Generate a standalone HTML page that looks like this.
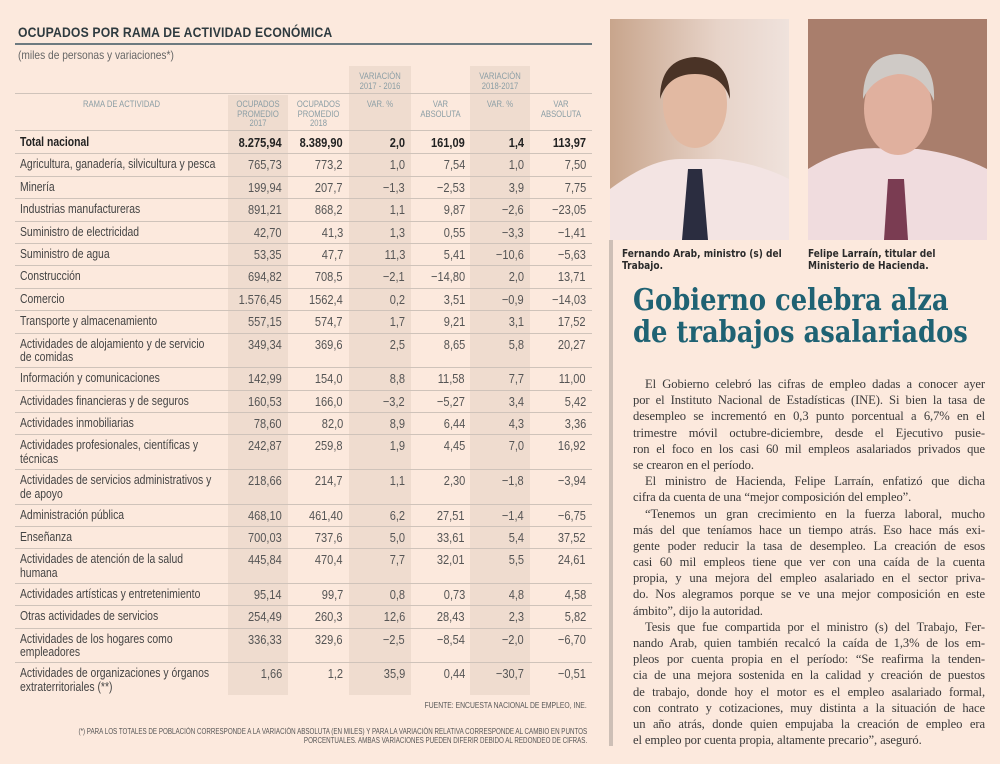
<!DOCTYPE html>
<html><head><meta charset="utf-8">
<style>
*{margin:0;padding:0;box-sizing:border-box}
body{width:1000px;height:764px;background:#fce9dd;position:relative;overflow:hidden;font-family:"Liberation Sans",sans-serif;color:#3b3b3b}
.abs{position:absolute}
.shade{position:absolute;background:#efdccf}
.hline{position:absolute;left:15px;width:577px;height:1px;background:#cfc3ba}
.cell{position:absolute;white-space:nowrap;font-size:13px}
.name{left:20px;transform:scaleX(0.8);transform-origin:left top;line-height:13.5px}
.num{transform:scaleX(0.85);transform-origin:right top;text-align:right}
.hdr{position:absolute;font-size:9px;color:#8b9ea5;text-align:center;line-height:9.5px;transform:scaleX(0.85)}
.body{position:absolute;left:633px;width:352px;font-family:"Liberation Serif",serif;font-size:12.6px;color:#3a3a3a}
.ln{height:16.2px;line-height:16.2px;white-space:nowrap;text-align:justify;text-align-last:justify;letter-spacing:-0.1px}
.ln.l{text-align-last:left}
.ln.i{padding-left:12px}
</style></head><body>
<div class="abs" style="left:18px;top:24px;font-size:14px;font-weight:bold;color:#2e3a3f;letter-spacing:0.2px;white-space:nowrap;transform:scaleX(0.87);transform-origin:left">OCUPADOS POR RAMA DE ACTIVIDAD ECONÓMICA</div>
<div class="abs" style="left:15px;top:43px;width:577px;height:2px;background:#6d7a80"></div>
<div class="abs" style="left:18px;top:48px;font-size:12px;color:#666;transform:scaleX(0.85);transform-origin:left">(miles de personas y variaciones*)</div>

<div class="shade" style="left:228px;top:95px;width:60px;height:600px"></div>
<div class="shade" style="left:349px;top:66px;width:62px;height:629px"></div>
<div class="shade" style="left:470px;top:66px;width:60px;height:629px"></div>

<div class="hdr" style="left:349px;top:72px;width:62px">VARIACIÓN<br>2017 - 2016</div>
<div class="hdr" style="left:470px;top:72px;width:60px">VARIACIÓN<br>2018-2017</div>
<div class="hline" style="top:93px"></div>
<div class="hdr" style="left:15px;top:100px;width:213px">RAMA DE ACTIVIDAD</div>
<div class="hdr" style="left:228px;top:100px;width:60px">OCUPADOS<br>PROMEDIO<br>2017</div>
<div class="hdr" style="left:288px;top:100px;width:61px">OCUPADOS<br>PROMEDIO<br>2018</div>
<div class="hdr" style="left:349px;top:100px;width:62px">VAR. %</div>
<div class="hdr" style="left:411px;top:100px;width:59px">VAR<br>ABSOLUTA</div>
<div class="hdr" style="left:470px;top:100px;width:60px">VAR. %</div>
<div class="hdr" style="left:530px;top:100px;width:62px">VAR<br>ABSOLUTA</div>
<div class="hline" style="top:130px"></div>

<div id="rows"></div>

<div class="abs" style="right:413px;top:701px;white-space:nowrap;text-align:right;font-size:8px;color:#555;transform:scaleX(0.85);transform-origin:right">FUENTE: ENCUESTA NACIONAL DE EMPLEO, INE.</div>
<div class="abs" style="right:413px;top:727px;white-space:nowrap;text-align:right;font-size:8px;line-height:9px;color:#555;transform:scaleX(0.78);transform-origin:right">(*) PARA LOS TOTALES DE POBLACIÓN CORRESPONDE A LA VARIACIÓN ABSOLUTA (EN MILES) Y PARA LA VARIACIÓN RELATIVA CORRESPONDE AL CAMBIO EN PUNTOS<br>PORCENTUALES. AMBAS VARIACIONES PUEDEN DIFERIR DEBIDO AL REDONDEO DE CIFRAS.</div>

<div class="abs" style="left:609px;top:240px;width:4px;height:506px;background:#cdbfb6"></div>

<svg class="abs" style="left:610px;top:19px" width="179" height="221">
<defs><linearGradient id="bg1" x1="0" x2="1"><stop offset="0" stop-color="#c8a58c"/><stop offset="0.6" stop-color="#e7d3c8"/><stop offset="1" stop-color="#efe2dc"/></linearGradient></defs>
<rect width="179" height="221" fill="url(#bg1)"/>
<path d="M0 170 Q40 140 70 140 L110 140 Q150 145 179 160 L179 221 L0 221Z" fill="#f3e4e3"/>
<ellipse cx="85" cy="85" rx="32" ry="44" fill="#e2b9a2"/>
<path d="M50 80 Q50 40 85 38 Q120 40 120 80 Q112 55 85 55 Q58 55 50 80Z" fill="#4a3326"/>
<path d="M78 150 L92 150 L98 221 L72 221Z" fill="#2b2d40"/>
</svg>
<svg class="abs" style="left:808px;top:19px" width="179" height="221">
<rect width="179" height="221" fill="#a07462"/>
<rect y="0" width="179" height="221" fill="#b28876" opacity="0.5"/>
<path d="M0 150 Q40 125 80 130 L110 130 Q150 135 179 150 L179 221 L0 221Z" fill="#f0dcde"/>
<ellipse cx="90" cy="90" rx="34" ry="46" fill="#e0b09e"/>
<path d="M55 80 Q55 35 92 35 Q128 38 126 82 Q115 55 90 55 Q65 58 55 80Z" fill="#cfcac6"/>
<path d="M80 160 L96 160 L100 221 L76 221Z" fill="#7a3c52"/>
</svg>
<div class="abs" style="left:622px;top:249px;white-space:nowrap;font-size:10.5px;font-weight:bold;line-height:11.5px;color:#2b2b2b;font-family:'DejaVu Sans',sans-serif;transform:scaleX(0.86);transform-origin:left">Fernando Arab, ministro (s) del<br>Trabajo.</div>
<div class="abs" style="left:808px;top:249px;white-space:nowrap;font-size:10.5px;font-weight:bold;line-height:11.5px;color:#2b2b2b;font-family:'DejaVu Sans',sans-serif;transform:scaleX(0.86);transform-origin:left">Felipe Larraín, titular del<br>Ministerio de Hacienda.</div>

<div class="abs" style="left:633px;top:285px;font-family:'DejaVu Serif','Liberation Serif',serif;font-weight:bold;font-size:30px;line-height:32px;color:#1f6273;transform:scaleX(0.86);transform-origin:left;white-space:nowrap">Gobierno celebra alza<br>de trabajos asalariados</div>

<div class="body" style="top:376px">
<div class="ln i">El Gobierno celebró las cifras de empleo dadas a conocer ayer</div>
<div class="ln">por el Instituto Nacional de Estadísticas (INE). Si bien la tasa de</div>
<div class="ln">desempleo se incrementó en 0,3 punto porcentual a 6,7% en el</div>
<div class="ln">trimestre móvil octubre-diciembre, desde el Ejecutivo pusie-</div>
<div class="ln">ron el foco en los casi 60 mil empleos asalariados privados que</div>
<div class="ln l">se crearon en el período.</div>
<div class="ln i">El ministro de Hacienda, Felipe Larraín, enfatizó que dicha</div>
<div class="ln l">cifra da cuenta de una “mejor composición del empleo”.</div>
<div class="ln i">“Tenemos un gran crecimiento en la fuerza laboral, mucho</div>
<div class="ln">más del que teníamos hace un tiempo atrás. Eso hace más exi-</div>
<div class="ln">gente poder reducir la tasa de desempleo. La creación de esos</div>
<div class="ln">casi 60 mil empleos tiene que ver con una caída de la cuenta</div>
<div class="ln">propia, y una mejora del empleo asalariado en el sector priva-</div>
<div class="ln">do. Nos alegramos porque se ve una mejor composición en este</div>
<div class="ln l">ámbito”, dijo la autoridad.</div>
<div class="ln i">Tesis que fue compartida por el ministro (s) del Trabajo, Fer-</div>
<div class="ln">nando Arab, quien también recalcó la caída de 1,3% de los em-</div>
<div class="ln">pleos por cuenta propia en el período: “Se reafirma la tenden-</div>
<div class="ln">cia de una mejora sostenida en la calidad y creación de puestos</div>
<div class="ln">de trabajo, donde hoy el motor es el empleo asalariado formal,</div>
<div class="ln">con contrato y cotizaciones, muy distinta a la situación de hace</div>
<div class="ln">un año atrás, donde quien empujaba la creación de empleo era</div>
<div class="ln l">el empleo por cuenta propia, altamente precario”, aseguró.</div>
</div>

<script>
const categories=["Total nacional","Agricultura, ganadería, silvicultura y pesca","Minería","Industrias manufactureras","Suministro de electricidad","Suministro de agua","Construcción","Comercio","Transporte y almacenamiento","Actividades de alojamiento y de servicio|de comidas","Información y comunicaciones","Actividades financieras y de seguros","Actividades inmobiliarias","Actividades profesionales, científicas y|técnicas","Actividades de servicios administrativos y|de apoyo","Administración pública","Enseñanza","Actividades de atención de la salud|humana","Actividades artísticas y entretenimiento","Otras actividades de servicios","Actividades de los hogares como|empleadores","Actividades de organizaciones y órganos|extraterritoriales (**)"];
const ocupados2017=["8.275,94","765,73","199,94","891,21","42,70","53,35","694,82","1.576,45","557,15","349,34","142,99","160,53","78,60","242,87","218,66","468,10","700,03","445,84","95,14","254,49","336,33","1,66"];
const ocupados2018=["8.389,90","773,2","207,7","868,2","41,3","47,7","708,5","1562,4","574,7","369,6","154,0","166,0","82,0","259,8","214,7","461,40","737,6","470,4","99,7","260,3","329,6","1,2"];
const varPct1=["2,0","1,0","-1,3","1,1","1,3","11,3","-2,1","0,2","1,7","2,5","8,8","-3,2","8,9","1,9","1,1","6,2","5,0","7,7","0,8","12,6","-2,5","35,9"];
const varAbs1=["161,09","7,54","-2,53","9,87","0,55","5,41","-14,80","3,51","9,21","8,65","11,58","-5,27","6,44","4,45","2,30","27,51","33,61","32,01","0,73","28,43","-8,54","0,44"];
const varPct2=["1,4","1,0","3,9","-2,6","-3,3","-10,6","2,0","-0,9","3,1","5,8","7,7","3,4","4,3","7,0","-1,8","-1,4","5,4","5,5","4,8","2,3","-2,0","-30,7"];
const varAbs2=["113,97","7,50","7,75","-23,05","-1,41","-5,63","13,71","-14,03","17,52","20,27","11,00","5,42","3,36","16,92","-3,94","-6,75","37,52","24,61","4,58","5,82","-6,70","-0,51"];

const colRights=[282,343,405,465,524,586];
const cont=document.getElementById('rows');
let y=131;
categories.forEach((c,i)=>{
  const two=c.includes('|');
  const h=two?34.6:22.4;
  const bold=i===0;
  const nm=document.createElement('div');
  nm.className='cell name';
  
  
  nm.style.top=(y+4)+'px';
  nm.style.fontWeight=bold?'bold':'normal';
  nm.style.color=bold?'#222':'#444';
  nm.innerHTML=c.replace('|','<br>');
  cont.appendChild(nm);
  const vals=[ocupados2017[i],ocupados2018[i],varPct1[i],varAbs1[i],varPct2[i],varAbs2[i]];
  vals.forEach((v,j)=>{
    const d=document.createElement('div');
    d.className='cell num';
    
    
    d.style.top=(y+4)+'px';
    d.style.right=(1000-colRights[j])+'px';
    d.style.fontWeight=bold?'bold':'normal';
    d.style.color=bold?'#222':'#555';
    d.textContent=v.replace('-','−');
    cont.appendChild(d);
  });
  y+=h;
  if(i<categories.length-1){
    const l=document.createElement('div');
    l.className='hline';
    
    
    l.style.top=Math.round(y)+'px';
    cont.appendChild(l);
  }
});
</script>
</body></html>
